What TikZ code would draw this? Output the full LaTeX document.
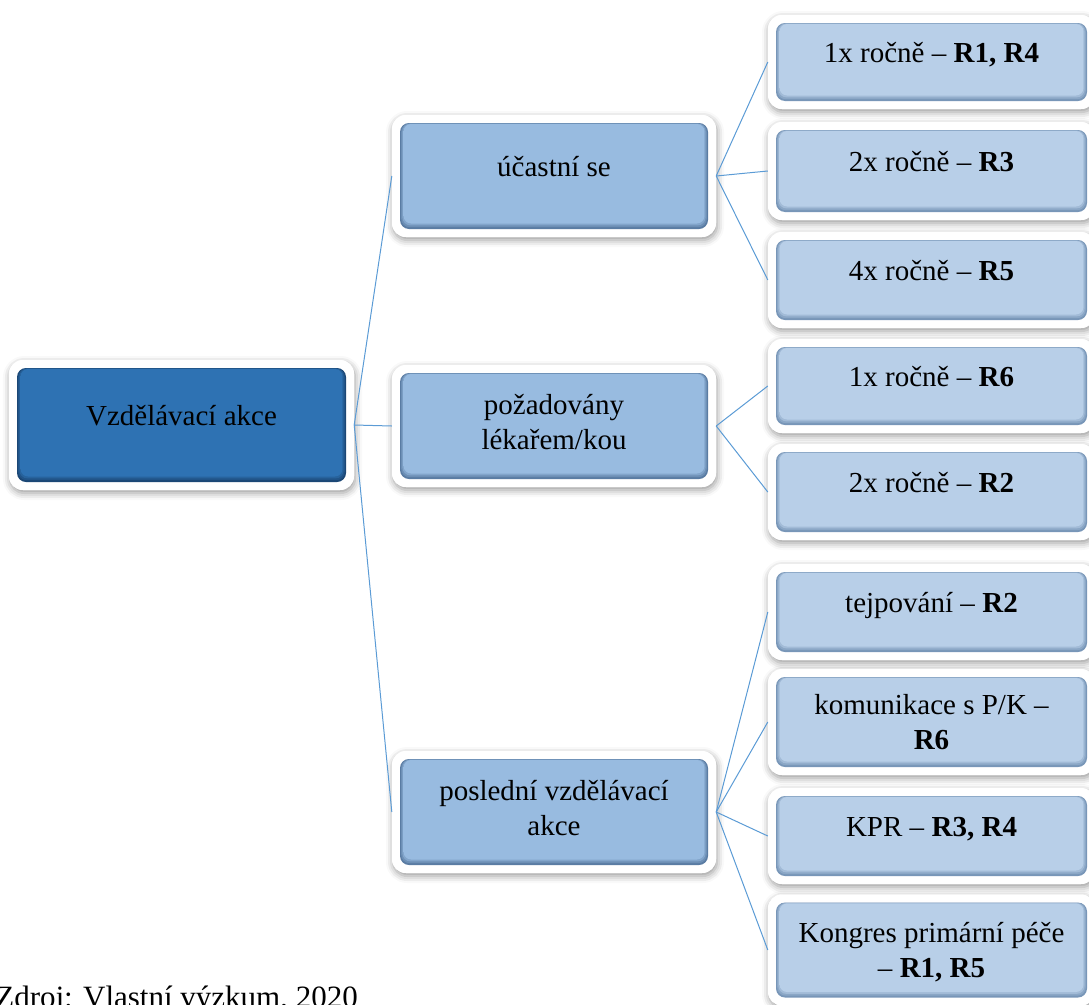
\documentclass[tikz,border=0pt]{standalone}
\usepackage{fontspec}
\setmainfont{Liberation Serif}
\usetikzlibrary{shadows.blur}

\pgfdeclarelayer{back}
\pgfsetlayers{back,main}

% face colours of the three levels: base, top highlight and bevel edge
\definecolor{rootbase}{HTML}{2E72B3}
\definecolor{roottop}{HTML}{3F88CB}
\definecolor{rootedge}{HTML}{1B4775}
\definecolor{midbase}{HTML}{98BBE0}
\definecolor{midtop}{HTML}{B4D5F3}
\definecolor{midedge}{HTML}{5A7CA3}
\definecolor{leafbase}{HTML}{B8CFE8}
\definecolor{leaftop}{HTML}{D0E5F8}
\definecolor{leafedge}{HTML}{7896B8}
\definecolor{linkblue}{HTML}{5B9BD5}

\pgfdeclareverticalshading{rootface}{100bp}{color(0bp)=(rootbase); color(82bp)=(rootbase); color(100bp)=(roottop)}
\pgfdeclareverticalshading{midface}{100bp}{color(0bp)=(midbase); color(82bp)=(midbase); color(100bp)=(midtop)}
\pgfdeclareverticalshading{leafface}{100bp}{color(0bp)=(leafbase); color(82bp)=(leafbase); color(100bp)=(leaftop)}

\tikzset{
  framebox/.style={fill=white, rounded corners=14, inner sep=0},
  frameshadow/.style={framebox, blur shadow={shadow xshift=1pt, shadow yshift=-3pt,
      shadow blur radius=7pt, shadow opacity=40}},
  % bevelled face: dark rim, two softening steps, then the shaded top
  face/.style n args={3}{fill=#1, rounded corners=9, inner sep=0,
    path picture={
      \fill[#1!70!#2, rounded corners=8.5]
        ([xshift=1.2pt,yshift=1.8pt]path picture bounding box.south west) rectangle
        ([xshift=-1.2pt,yshift=-0.3pt]path picture bounding box.north east);
      \fill[#1!35!#2, rounded corners=8]
        ([xshift=2.4pt,yshift=3.6pt]path picture bounding box.south west) rectangle
        ([xshift=-2.4pt,yshift=-0.6pt]path picture bounding box.north east);
      \shade[shading=#3, rounded corners=7.5]
        ([xshift=3.6pt,yshift=5.5pt]path picture bounding box.south west) rectangle
        ([xshift=-3.6pt,yshift=-1pt]path picture bounding box.north east);
    }},
  rootface/.style={face={rootedge}{rootbase}{rootface}},
  midface/.style={face={midedge}{midbase}{midface}},
  leafface/.style={face={leafedge}{leafbase}{leafface}},
  label text/.style={inner sep=0, align=center, text=black,
    font=\fontsize{29}{35}\selectfont},
  one line/.style={text height=21pt, text depth=6pt, yshift=7.5pt},
  link/.style={draw=linkblue, line width=1pt}
}

% #1 name, #2 x, #3 y, #4 width, #5 height, #6 face style, #7 text options, #8 text
\newcommand\smbox[8]{%
  \begin{pgfonlayer}{back}
    \node[frameshadow, minimum width=#4+16, minimum height=#5+16] (#1s) at (#2,#3) {};
  \end{pgfonlayer}
  \node[framebox, minimum width=#4+16, minimum height=#5+16] (#1f) at (#2,#3) {};
  \node[#6, minimum width=#4, minimum height=#5] (#1) at (#2,#3) {};
  \node[label text, #7] (#1t) at (#1.center) {#8};
}

\begin{document}
\begin{tikzpicture}[x=1pt, y=-1pt]
  \useasboundingbox (0,0) rectangle (1089,1004);

  % root
  \smbox{root}{181.5}{425}{329}{114}{rootface}{one line}{Vzdělávací akce}

  % second level
  \smbox{a}{554}{176}{308}{106}{midface}{one line}{účastní se}
  \smbox{b}{554}{426}{308}{106}{midface}{yshift=3.5pt}{požadovány\\lékařem/kou}
  \smbox{c}{554}{812}{308}{106}{midface}{yshift=3.5pt}{poslední vzdělávací\\akce}

  % third level
  \smbox{aa}{931.5}{62}{311}{78}{leafface}{one line}{1x ročně -- \textbf{R1, R4}}
  \smbox{ab}{931.5}{171}{311}{82}{leafface}{one line}{2x ročně -- \textbf{R3}}
  \smbox{ac}{931.5}{280}{311}{80}{leafface}{one line}{4x ročně -- \textbf{R5}}
  \smbox{ba}{931.5}{386}{311}{78}{leafface}{one line}{1x ročně -- \textbf{R6}}
  \smbox{bb}{931.5}{492}{311}{80}{leafface}{one line}{2x ročně -- \textbf{R2}}
  \smbox{ca}{931.5}{612}{311}{80}{leafface}{one line}{tejpování -- \textbf{R2}}
  \smbox{cb}{931.5}{722}{311}{90}{leafface}{yshift=-0.5pt}{komunikace s P/K --\\\textbf{R6}}
  \smbox{cc}{931.5}{836}{311}{80}{leafface}{one line}{KPR -- \textbf{R3, R4}}
  \smbox{cd}{931.5}{950}{311}{95}{leafface}{yshift=-2.5pt}{Kongres primární péče\\-- \textbf{R1, R5}}

  % connectors
  \foreach \k in {a,b,c} \draw[link] (rootf.east) -- (\k f.west);
  \foreach \k in {aa,ab,ac} \draw[link] (af.east) -- (\k f.west);
  \foreach \k in {ba,bb} \draw[link] (bf.east) -- (\k f.west);
  \foreach \k in {ca,cb,cc,cd} \draw[link] (cf.east) -- (\k f.west);

  % source line, running off the lower edge of the page
  \node[anchor=base east, inner sep=0, font=\fontsize{31}{36}\selectfont] (src)
    at (358,1007) {Zdroj: Vlastní výzkum, 2020};
\end{tikzpicture}
\end{document}
